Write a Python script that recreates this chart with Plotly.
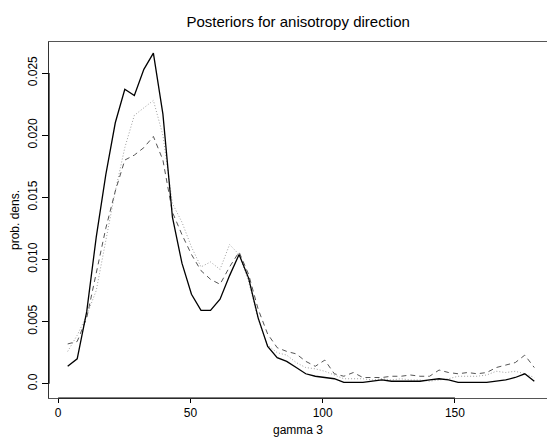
import plotly.graph_objects as go

gamma3 = [3.6, 7.2, 10.8, 14.4, 18.0, 21.6, 25.2, 28.8, 32.4, 36.0,
          39.6, 43.2, 46.8, 50.4, 54.0, 57.6, 61.2, 64.8, 68.4, 72.0,
          75.6, 79.2, 82.8, 86.4, 90.0, 93.6, 97.2, 100.8, 104.4, 108.0,
          111.6, 115.2, 118.8, 122.4, 126.0, 129.6, 133.2, 136.8, 140.4, 144.0,
          147.6, 151.2, 154.8, 158.4, 162.0, 165.6, 169.2, 172.8, 176.4, 180.0]

dens_solid = [0.0014, 0.0020, 0.0058, 0.0118, 0.0168, 0.0210, 0.0237, 0.0232, 0.0253, 0.0266,
              0.0217, 0.0134, 0.0097, 0.0072, 0.0059, 0.0059, 0.0068, 0.0087, 0.0104, 0.0085,
              0.0053, 0.0030, 0.0021, 0.0018, 0.0013, 0.0008, 0.0006, 0.0005, 0.0004, 0.0001,
              0.0001, 0.0001, 0.0002, 0.0003, 0.0002, 0.0002, 0.0002, 0.0002, 0.0003, 0.0004,
              0.0003, 0.0001, 0.0001, 0.0001, 0.0001, 0.0002, 0.0003, 0.0005, 0.0008, 0.0002]

dens_dashed = [0.0032, 0.0034, 0.0053, 0.0090, 0.0125, 0.0155, 0.0180, 0.0184, 0.0190, 0.0199,
               0.0180, 0.0138, 0.0120, 0.0104, 0.0091, 0.0084, 0.0080, 0.0094, 0.0106, 0.0088,
               0.0060, 0.0040, 0.0029, 0.0026, 0.0024, 0.0018, 0.0014, 0.0019, 0.0008, 0.0006,
               0.0009, 0.0005, 0.0005, 0.0005, 0.0006, 0.0006, 0.0007, 0.0006, 0.0006, 0.0011,
               0.0009, 0.0008, 0.0009, 0.0008, 0.0009, 0.0013, 0.0015, 0.0017, 0.0023, 0.0013]

dens_dotted = [0.0026, 0.0039, 0.0055, 0.0075, 0.0115, 0.0155, 0.0190, 0.0216, 0.0222, 0.0228,
               0.0200, 0.0145, 0.0130, 0.0110, 0.0094, 0.0098, 0.0092, 0.0112, 0.0104, 0.0082,
               0.0052, 0.0031, 0.0025, 0.0023, 0.0017, 0.0013, 0.0012, 0.0010, 0.0007, 0.0004,
               0.0004, 0.0004, 0.0003, 0.0004, 0.0003, 0.0004, 0.0003, 0.0003, 0.0002, 0.0003,
               0.0004, 0.0006, 0.0006, 0.0006, 0.0007, 0.0010, 0.0009, 0.0010, 0.0008, 0.0005]

x_ticks = [0, 50, 100, 150]
y_ticks = [0.0, 0.005, 0.010, 0.015, 0.020, 0.025]
y_tick_text = ["0.0", "0.005", "0.010", "0.015", "0.020", "0.025"]

fig = go.Figure()
fig.add_trace(go.Scatter(x=gamma3, y=dens_dotted, mode="lines",
                         line=dict(color="#a0a0a0", width=1, dash="1px,2px")))
fig.add_trace(go.Scatter(x=gamma3, y=dens_dashed, mode="lines",
                         line=dict(color="#555555", width=1, dash="5px,4px")))
fig.add_trace(go.Scatter(x=gamma3, y=dens_solid, mode="lines",
                         line=dict(color="#000000", width=1.3)))

font = "Liberation Sans, Arial, Helvetica, sans-serif"

fig.update_layout(
    width=547, height=442,
    margin=dict(l=49, r=0, t=42, b=44),
    paper_bgcolor="white", plot_bgcolor="white",
    showlegend=False,
    font=dict(family=font, size=12, color="black"),
    title=dict(text="Posteriors for anisotropy direction", x=0.545, xanchor="center",
               y=0.95, yanchor="middle", font=dict(size=15, family=font, color="black")),
    xaxis=dict(range=[-3.46, 184.8], tickvals=x_ticks, ticks="outside", ticklen=4,
               tickcolor="black", showgrid=False, zeroline=False,
               showline=True, linecolor="#555555", linewidth=1, mirror=True,
               tickfont=dict(size=12),
               title=dict(text="gamma 3", standoff=6, font=dict(size=12))),
    yaxis=dict(range=[-0.00115, 0.0275], tickvals=y_ticks, ticktext=y_tick_text,
               tickangle=-90, ticks="outside", ticklen=6, tickcolor="black",
               showgrid=False, zeroline=False,
               showline=True, linecolor="#333333", linewidth=1, mirror=False,
               tickfont=dict(size=12),
               title=dict(text="prob. dens.", standoff=4, font=dict(size=12))),
)

fig.add_shape(type="line", xref="x", yref="paper", x0=x_ticks[0], x1=x_ticks[-1], y0=0, y1=0,
              line=dict(color="black", width=1.2))
fig.add_shape(type="line", xref="paper", yref="y", x0=0, x1=0, y0=y_ticks[0], y1=y_ticks[-1],
              line=dict(color="black", width=1.2))

fig.write_html("out.html", config={"displayModeBar": False},
               post_script="document.body.style.margin='0';document.body.style.overflow='hidden';")
